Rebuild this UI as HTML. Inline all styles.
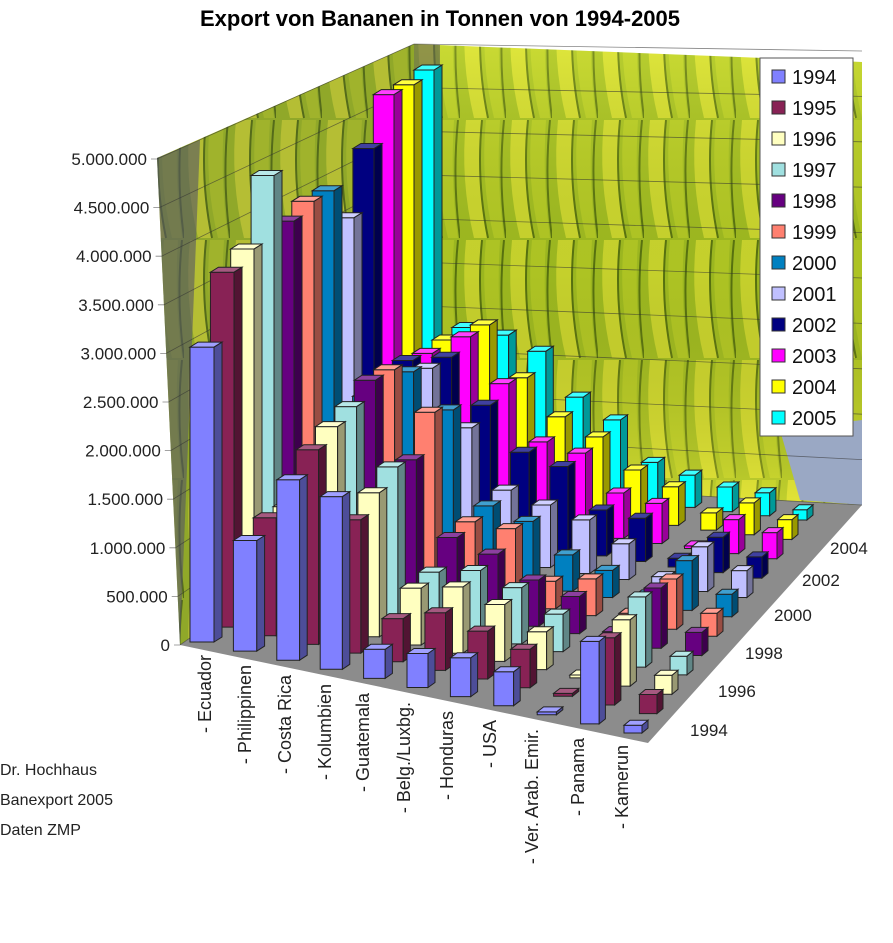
<!DOCTYPE html>
<html><head><meta charset="utf-8"><style>
body{margin:0;background:#fff;width:893px;height:938px;overflow:hidden;font-family:"Liberation Sans",sans-serif}
</style></head><body>
<svg id="s" width="893" height="938" xmlns="http://www.w3.org/2000/svg" font-family="Liberation Sans, sans-serif">
<defs>
<pattern id="ban" width="46" height="120" patternUnits="userSpaceOnUse">
<rect width="46" height="120" fill="#a8c622"/>
<path d="M6 0 Q0 60 14 118 L28 118 Q16 60 22 0Z" fill="#d6e230"/>
<path d="M26 0 Q20 60 34 118 L44 118 Q36 60 40 0Z" fill="#bcd426"/>
<path d="M22 0 Q16 60 28 118" stroke="#5d7a10" stroke-width="2" fill="none"/>
<path d="M44 0 Q38 60 46 118" stroke="#5d7a10" stroke-width="2" fill="none"/>
</pattern>
<linearGradient id="shade" x1="0" y1="0" x2="0" y2="1"><stop offset="0" stop-color="#fff36a" stop-opacity="0.2"/><stop offset="0.5" stop-color="#000" stop-opacity="0.08"/><stop offset="1" stop-color="#ffe84a" stop-opacity="0.3"/></linearGradient>
</defs>
<text x="440" y="26" text-anchor="middle" font-size="22" font-weight="bold">Export von Bananen in Tonnen von 1994-2005</text>
<polygon points="157,158 414,44 414,480 180,645" fill="url(#ban)"/>
<polygon points="157,158 414,44 414,480 180,645" fill="#334" opacity="0.2"/>
<polygon points="157,158 200,140 180,645" fill="#556" opacity="0.6"/>
<polygon points="414,44 862,62 862,505 414,480" fill="url(#ban)"/>
<polygon points="414,44 862,62 862,505 414,480" fill="url(#shade)"/>
<polygon points="414,44 440,45 440,300 414,300" fill="#445" opacity="0.5"/>
<polygon points="780,430 862,420 862,505 800,500" fill="#9aa8c4"/>
<polygon points="180,645 414,480 862,505 648,743" fill="#8c8c8c"/>
<g id="grid" stroke="#333" stroke-width="0.8" fill="none" opacity="0.6"></g>
<g id="ylab" font-size="17" text-anchor="end" fill="#222"></g>
<g id="bars" stroke="#222" stroke-width="1"></g>
<g font-size="18" fill="#222">
<text transform="translate(211,655) rotate(-90)" text-anchor="end">- Ecuador</text>
<text transform="translate(251,665) rotate(-90)" text-anchor="end">- Philippinen</text>
<text transform="translate(291,675) rotate(-90)" text-anchor="end">- Costa Rica</text>
<text transform="translate(331,684) rotate(-90)" text-anchor="end">- Kolumbien</text>
<text transform="translate(369,693) rotate(-90)" text-anchor="end">- Guatemala</text>
<text transform="translate(410,702) rotate(-90)" text-anchor="end">- Belg./Luxbg.</text>
<text transform="translate(453,711) rotate(-90)" text-anchor="end">- Honduras</text>
<text transform="translate(496,720) rotate(-90)" text-anchor="end">- USA</text>
<text transform="translate(538,729) rotate(-90)" text-anchor="end">- Ver. Arab. Emir.</text>
<text transform="translate(584,738) rotate(-90)" text-anchor="end">- Panama</text>
<text transform="translate(628,745) rotate(-90)" text-anchor="end">- Kamerun</text>
</g>
<g font-size="17" fill="#222">
<text x="690" y="736">1994</text><text x="718" y="697">1996</text><text x="745" y="659">1998</text>
<text x="774" y="621">2000</text><text x="802" y="586">2002</text><text x="830" y="554">2004</text>
</g>
<g font-size="16" fill="#222">
<text x="0" y="775">Dr. Hochhaus</text><text x="0" y="805">Banexport 2005</text><text x="0" y="835">Daten ZMP</text>
</g>
<rect x="760" y="58" width="93" height="378" fill="#fff" stroke="#555"/>
<g id="leg" font-size="20" fill="#111"></g>
</svg>
<script>
var cols=["#8080ff","#882255","#ffffc0","#a0e0e0","#660080","#ff8070","#0080c0","#c0c0ff","#000080","#ff00ff","#ffff00","#00ffff"];
var data=[
[3.04,3.7,3.83,4.5,3.9,4.0,4.0,3.58,4.24,4.74,4.74,4.8],
[1.14,1.23,1.2,1.3,1.5,1.6,1.8,1.7,1.9,1.83,1.83,1.82],
[1.86,2.03,2.13,2.2,2.34,2.31,2.14,2.03,2.0,2.08,2.06,1.78],
[1.78,1.39,1.52,1.64,1.56,1.92,1.79,1.43,1.52,1.6,1.5,1.64],
[0.3,0.45,0.6,0.6,0.8,0.8,0.8,0.8,1.05,0.99,1.1,1.15],
[0.35,0.6,0.7,0.7,0.7,0.8,0.7,0.7,0.95,0.92,0.92,0.93],
[0.4,0.5,0.6,0.6,0.5,0.3,0.4,0.6,0.52,0.52,0.59,0.48],
[0.35,0.4,0.4,0.4,0.4,0.4,0.3,0.4,0.49,0.46,0.45,0.38],
[0.03,0.03,0.03,0.05,0.1,0.1,0.1,0.1,0.1,0.03,0.2,0.29],
[0.85,0.7,0.7,0.75,0.65,0.55,0.55,0.5,0.4,0.39,0.37,0.27],
[0.08,0.2,0.2,0.2,0.25,0.25,0.25,0.3,0.24,0.3,0.23,0.12]];
function shade(c,f){var n=parseInt(c.slice(1),16),r=n>>16,g=(n>>8)&255,b=n&255;
 function a(v){v=f<1?v*f:v+(255-v)*(f-1);return Math.round(Math.max(0,Math.min(255,v)));}
 return "rgb("+a(r)+","+a(g)+","+a(b)+")";}
function P(i,j){var fx=202+43.1*i,fy=642+9.1*i,bx=424+37.6*i,by=478+4.2*i;var t=j/11;return [fx+(bx-fx)*t,fy+(by-fy)*t];}
var ns="http://www.w3.org/2000/svg";
function poly(g,pts,fill){var p=document.createElementNS(ns,"polygon");p.setAttribute("points",pts.map(function(q){return q[0].toFixed(1)+","+q[1].toFixed(1)}).join(" "));p.setAttribute("fill",fill);g.appendChild(p);}
var bars=document.getElementById("bars");
for(var j=11;j>=0;j--){for(var i=0;i<11;i++){
 var p=P(i,j),s=97-12*j/11,h=data[i][j]*s,w=24-6*i/10-4*j/11,dx=8-2*i/10,dy=-5;
 var x0=p[0]-w/2,x1=p[0]+w/2,y0=p[1],yt=p[1]-h;
 poly(bars,[[x0,y0],[x1,y0],[x1,yt],[x0,yt]],cols[j]);
 poly(bars,[[x1,y0],[x1+dx,y0+dy],[x1+dx,yt+dy],[x1,yt]],shade(cols[j],0.6));
 poly(bars,[[x0,yt],[x1,yt],[x1+dx,yt+dy],[x0+dx,yt+dy]],shade(cols[j],1.25));
}}
var grid=document.getElementById("grid"),yl=document.getElementById("ylab");
var labs=["0","500.000","1.000.000","1.500.000","2.000.000","2.500.000","3.000.000","3.500.000","4.000.000","4.500.000","5.000.000"];
for(var k=0;k<=10;k++){
 var yL=645-48.6*k,xL=180-2.3*k, yB=480-43.6*k;
 var l=document.createElementNS(ns,"polyline");l.setAttribute("points",(xL-6)+","+yL+" "+xL+","+yL+" 414,"+yB+" 862,"+(yB+25-1.8*k));grid.appendChild(l);
 var t=document.createElementNS(ns,"text");t.setAttribute("x",xL-10);t.setAttribute("y",yL+6);t.textContent=labs[k];yl.appendChild(t);
}
var lg=document.getElementById("leg");
for(var j=0;j<12;j++){var y=70+31*j;
 var r=document.createElementNS(ns,"rect");r.setAttribute("x",772);r.setAttribute("y",y);r.setAttribute("width",13);r.setAttribute("height",13);r.setAttribute("fill",cols[j]);r.setAttribute("stroke","#333");lg.appendChild(r);
 var t=document.createElementNS(ns,"text");t.setAttribute("x",792);t.setAttribute("y",y+14);t.textContent=1994+j;lg.appendChild(t);}
</script>
</body></html>
